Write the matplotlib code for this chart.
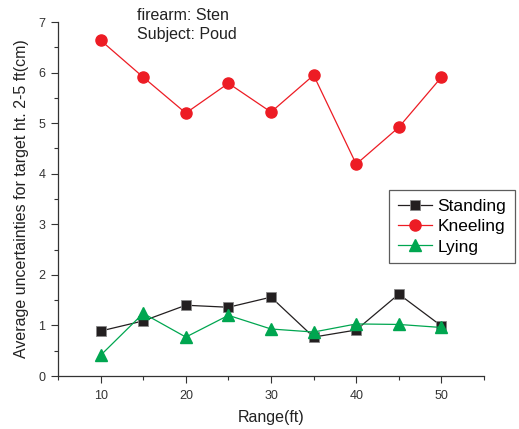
import matplotlib
matplotlib.use("Agg")
import matplotlib.pyplot as plt
from matplotlib.ticker import MultipleLocator

plt.rcParams["font.family"] = ["Liberation Sans", "DejaVu Sans"]

ranges = [10, 15, 20, 25, 30, 35, 40, 45, 50]
standing = [0.89, 1.09, 1.40, 1.36, 1.56, 0.77, 0.91, 1.62, 0.99]
kneeling = [6.64, 5.91, 5.20, 5.79, 5.22, 5.95, 4.19, 4.92, 5.91]
lying = [0.41, 1.24, 0.77, 1.20, 0.93, 0.87, 1.03, 1.02, 0.96]

fig = plt.figure(figsize=(5.19, 4.29), dpi=100)
ax = fig.add_axes([0.1118, 0.1235, 0.8208, 0.825])

ax.plot(ranges, standing, color="#231F20", lw=0.9, marker="s", ms=7,
        mfc="#231F20", mec="#888888", mew=0.6, label="Standing")
ax.plot(ranges, kneeling, color="#ED1C24", lw=0.9, marker="o", ms=8,
        mfc="#ED1C24", mec="#ED1C24", label="Kneeling")
ax.plot(ranges, lying, color="#00A650", lw=0.9, marker="^", ms=8,
        mfc="#00A650", mec="#00A650", label="Lying")

ax.set_xlim(5, 55)
ax.set_ylim(0, 7)
ax.xaxis.set_major_locator(MultipleLocator(10))
ax.xaxis.set_minor_locator(MultipleLocator(5))
ax.yaxis.set_major_locator(MultipleLocator(1))
ax.yaxis.set_minor_locator(MultipleLocator(0.5))
ax.spines["top"].set_visible(False)
ax.spines["right"].set_visible(False)
for s in ("left", "bottom"):
    ax.spines[s].set_color("#333333")
    ax.spines[s].set_linewidth(0.9)
ax.tick_params(which="major", direction="out", length=5, width=0.8,
               colors="#333333", labelsize=9, labelcolor="#333333")
ax.tick_params(which="minor", direction="out", length=3, width=0.8,
               colors="#333333")
ax.tick_params(axis="x", pad=5)
ax.tick_params(axis="y", pad=4)

ax.set_xlabel("Range(ft)", fontsize=11.5, color="#222222", labelpad=6)
ax.set_ylabel("Average uncertainties for target ht. 2-5 ft(cm)",
              fontsize=11.5, color="#222222", labelpad=7)

fig.text(0.264, 0.963, "firearm: Sten", fontsize=11.5, color="#222222", va="center")
fig.text(0.264, 0.919, "Subject: Poud", fontsize=11.5, color="#222222", va="center")

leg = ax.legend(loc="upper left", bbox_to_anchor=(389 / 519, 1 - 190 / 429),
                bbox_transform=fig.transFigure, fontsize=12.5, frameon=True,
                fancybox=False, edgecolor="#333333", handlelength=2.0,
                borderpad=0.5, labelspacing=0.3, handletextpad=0.3,
                borderaxespad=0, markerscale=1.0)
leg.get_frame().set_linewidth(0.9)

fig.savefig("out.png", dpi=100)
